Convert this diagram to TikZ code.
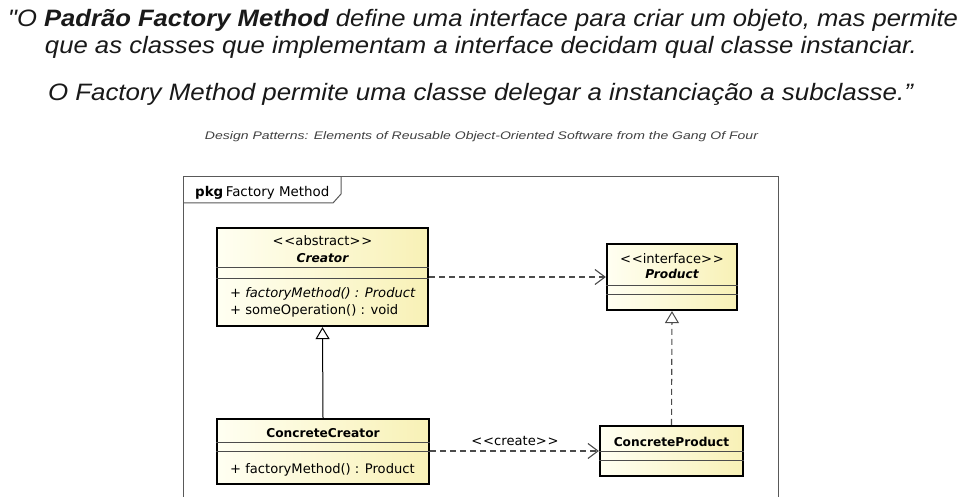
\documentclass[tikz,border=0pt]{standalone}
\usepackage{fontspec}
\setmainfont{Liberation Sans}
\newfontfamily\titlefont{Liberation Sans}
\newfontfamily\umlfont{DejaVu Sans}
\usetikzlibrary{arrows.meta,calc}
\definecolor{boxA}{RGB}{255,255,242}
\definecolor{boxB}{RGB}{248,241,182}
\definecolor{depc}{RGB}{75,75,75}
\definecolor{titlec}{RGB}{25,25,25}
\newcommand{\stereo}[1]{<\kern0.8pt<#1>\kern0.8pt>}
\newcommand{\umlbold}{\fontsize{12.2}{14}\selectfont\bfseries}
\begin{document}
\begin{tikzpicture}[x=1pt,y=-1pt,
  umlbox/.style={draw=black, line width=2.2pt, left color=boxA, right color=boxB, inner sep=0pt},
  sepline/.style={draw=black!70, line width=0.9pt},
  umltxt/.style={font=\umlfont\fontsize{13.1}{15}\selectfont, inner sep=0pt, anchor=base},
  umlleft/.style={umltxt, anchor=base west},
  frameline/.style={draw=black!65, line width=1pt},
  depline/.style={depc, line width=1.1pt, dash pattern=on 6pt off 4pt,
    -{Straight Barb[length=10pt,width=15pt,line width=1.1pt]}},
  genline/.style={black, line width=1pt,
    -{Triangle[open,length=12pt,width=14pt,fill=white,line width=1pt]}},
  realline/.style={depc, line width=1.1pt, dash pattern=on 6pt off 4pt,
    -{Triangle[open,length=12pt,width=14pt,fill=white,line width=1pt]}},
  titletxt/.style={inner sep=0pt, anchor=base, text=titlec}
]
\fill[white] (0,0) rectangle (972,497);
\useasboundingbox (0,0) rectangle (972,497);

% Title quote
\node[titletxt] (t1) at (483,27) {\resizebox{950pt}{\height}{\titlefont\fontsize{23.7}{28}\selectfont\itshape "O \textbf{Padrão Factory Method} define uma interface para criar um objeto, mas permite}};
\node[titletxt] (t2) at (481,54) {\resizebox{872pt}{\height}{\titlefont\fontsize{23.7}{28}\selectfont\itshape que as classes que implementam a interface decidam qual classe instanciar.}};
\node[titletxt] (t3) at (480.5,101) {\resizebox{865pt}{\height}{\titlefont\fontsize{23.7}{28}\selectfont\itshape O Factory Method permite uma classe delegar a instanciação a subclasse.”}};
\node[titletxt, text=black!75] (cite) at (481.5,140) {\resizebox{553pt}{\height}{\titlefont\fontsize{11}{13}\selectfont\itshape Design Patterns: Elements of Reusable Object-Oriented Software from the Gang Of Four}};

% Package frame
\draw[frameline] (183,497) -- (183,176.5) -- (778,176.5) -- (778,497);
\draw[frameline] (183,203) -- (333,203) -- (341,194) -- (341,176.5);
\node[anchor=base west, inner sep=0pt] (pkg) at (195,197) {\umlfont\fontsize{13.4}{15}\selectfont\textbf{pkg}\kern2.5pt Factory Method};

% Creator
\node[umlbox, minimum width=211pt, minimum height=98pt] (creator) at (322.5,277) {};
\draw[sepline] ($(creator.north west)+(0,41)$) -- ($(creator.north east)+(0,41)$);
\draw[sepline] ($(creator.north west)+(0,52)$) -- ($(creator.north east)+(0,52)$);
\node[umltxt] (cr1) at (322.5,246) {\stereo{abstract}};
\node[umltxt] (cr2) at (322.5,262) {\umlbold\itshape Creator};
\node[umlleft] (cr3) at (230,298) {\itshape + factoryMethod() : Product};
\node[umlleft] (cr4) at (230,314) {+ someOperation() : void};

% Product
\node[umlbox, minimum width=130pt, minimum height=66pt] (product) at (672,277) {};
\draw[sepline] ($(product.north west)+(0,43)$) -- ($(product.north east)+(0,43)$);
\draw[sepline] ($(product.north west)+(0,52)$) -- ($(product.north east)+(0,52)$);
\node[umltxt] (pr1) at (672,263) {\stereo{interface}};
\node[umltxt] (pr2) at (672,279) {\umlbold\itshape Product};

% ConcreteCreator
\node[umlbox, minimum width=212pt, minimum height=65pt] (ccreator) at (323,451.5) {};
\draw[sepline] ($(ccreator.north west)+(0,25)$) -- ($(ccreator.north east)+(0,25)$);
\draw[sepline] ($(ccreator.north west)+(0,34)$) -- ($(ccreator.north east)+(0,34)$);
\node[umltxt] (cc1) at (323,437) {\umlbold ConcreteCreator};
\node[umlleft] (cc2) at (230,473) {+ factoryMethod() : Product};

% ConcreteProduct
\node[umlbox, minimum width=143pt, minimum height=50pt] (cproduct) at (671.5,451) {};
\draw[sepline] ($(cproduct.north west)+(0,27)$) -- ($(cproduct.north east)+(0,27)$);
\draw[sepline] ($(cproduct.north west)+(0,36)$) -- ($(cproduct.north east)+(0,36)$);
\node[umltxt] (cp1) at (671.5,446) {\umlbold ConcreteProduct};

% Connectors
\draw[depline] (creator.east) -- (product.west);
\draw[depline] (ccreator.east |- cproduct.west) -- (cproduct.west);
\node[umltxt] (createlbl) at (515,445) {\stereo{create}};
\draw[genline] (ccreator.north) -- (creator.south);
\draw[realline] (cproduct.north) -- (product.south);
\end{tikzpicture}
\end{document}
